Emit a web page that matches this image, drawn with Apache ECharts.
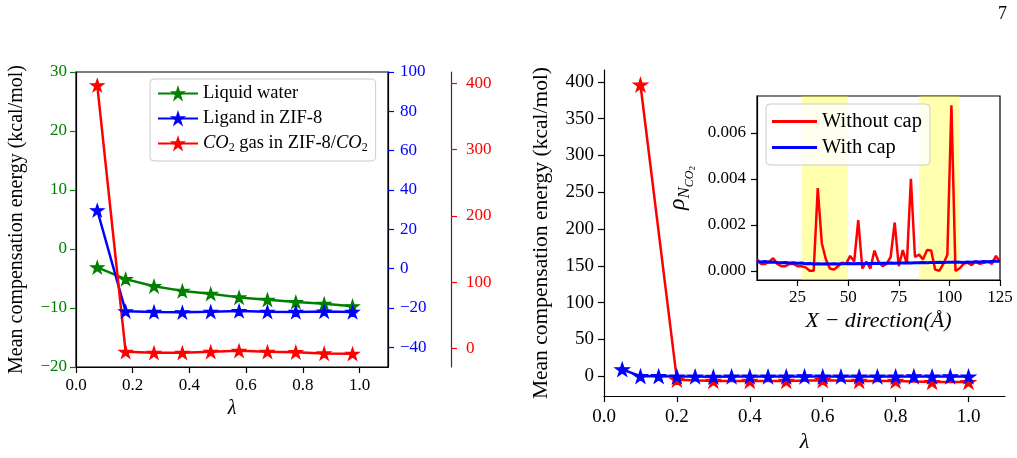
<!DOCTYPE html>
<html>
<head>
<meta charset="utf-8">
<script src="https://cdn.jsdelivr.net/npm/echarts@6/dist/echarts.min.js"></script>
<style>
  html, body { margin: 0; padding: 0; background: #fff; }
  #main { width: 1017px; height: 458px; }
</style>
</head>
<body>
<div id="main"></div>
<script>
// left panel: lambda values and the three solvents
const lamLeft = [0.075, 0.175, 0.275, 0.375, 0.475, 0.575, 0.675, 0.775, 0.875, 0.975]
const waterE = [-3.1, -5.1, -6.3, -7.1, -7.6, -8.2, -8.6, -9.0, -9.3, -9.7]
const ligandE = [29.7, -21.7, -22.0, -22.2, -21.9, -21.5, -21.9, -22.0, -21.8, -22.0]
const co2E = [397, -5.1, -6.6, -6.6, -5.1, -3.6, -5.1, -5.6, -7.5, -8.1]

// right panel: without cap (red) / with cap (blue)
const lamRed = [0.1, 0.2, 0.3, 0.4, 0.5, 0.6, 0.7, 0.8, 0.9, 1.0]
const noCapE = [396, -4.7, -6.5, -6.5, -6.5, -5.5, -6.5, -6.5, -8, -8]
const lamBlue = [0.05, 0.1, 0.15, 0.2, 0.25, 0.3, 0.35, 0.4, 0.45, 0.5,
  0.55, 0.6, 0.65, 0.7, 0.75, 0.8, 0.85, 0.9, 0.95, 1.0]
const capE = [9.3, 0, 0, -0.5, -0.5, -0.8, -0.5, -0.5, -0.5, -0.5,
  -0.3, -0.5, -0.5, -0.5, -0.5, -0.5, -0.3, -0.5, -0.3, -0.5]

// inset: density profile along x
const xDir = [5, 7, 9, 11, 13, 15, 17, 19, 21, 23, 25, 27, 29, 31, 33, 35, 37, 39, 41, 43,
  45, 47, 49, 51, 53, 55, 57, 59, 61, 63, 65, 67, 69, 71, 73, 75, 77, 79, 81, 83,
  85, 87, 89, 91, 93, 95, 97, 99, 101, 103, 105, 107, 109, 111, 113, 115, 117, 119, 121, 123, 125]
const rhoNoCap = [0.0005, 0.0003, 0.0003, 0.0004, 0.00055, 0.0003, 0.0002, 0.0002, 0.0003, 0.0003,
  0.0002, 0.0002, 0.00015, 0.0, 0.0, 0.0036, 0.0012, 0.0005, 0.0001, 0.00005,
  0.0002, 0.00035, 0.0003, 0.00065, 0.0004, 0.0022, 0.0001, 0.0004, 0.0001, 0.00088,
  0.0004, 0.0002, 0.0003, 0.0006, 0.0021, 0.0002, 0.0009, 0.0003, 0.004, 0.0006,
  0.0007, 0.0005, 0.0009, 0.00088, 0.00005, 0.0, 0.0003, 0.0007, 0.0072, 0.0,
  0.0001, 0.0003, 0.00035, 0.00025, 0.0004, 0.0003, 0.00035, 0.0004, 0.0003, 0.00065, 0.0004]
const rhoCap = [0.0004, 0.00038, 0.0004, 0.00037, 0.00038, 0.00036, 0.00035, 0.00036, 0.00034, 0.00035,
  0.00033, 0.00034, 0.00031, 0.00032, 0.0003, 0.00031, 0.0003, 0.00031, 0.0003, 0.00031,
  0.0003, 0.00031, 0.00031, 0.00032, 0.00031, 0.00032, 0.00031, 0.00032, 0.00032, 0.00033,
  0.00032, 0.00033, 0.00033, 0.00034, 0.00033, 0.00034, 0.00034, 0.00035, 0.00034, 0.00035,
  0.00035, 0.00036, 0.00035, 0.00036, 0.00036, 0.00037, 0.00036, 0.00037, 0.00037, 0.00038,
  0.00037, 0.00036, 0.00038, 0.00037, 0.00039, 0.00038, 0.0004, 0.00039, 0.00041, 0.00042, 0.00041]
const bands = [[27, 50], [85, 105]]

// tick labels
const lamTicks = [0, 0.2, 0.4, 0.6, 0.8, 1.0]
const waterTicks = [-20, -10, 0, 10, 20, 30]
const ligandTicks = [-40, -20, 0, 20, 40, 60, 80, 100]
const co2Ticks = [0, 100, 200, 300, 400]
const rightTicks = [0, 50, 100, 150, 200, 250, 300, 350, 400]
const xDirTicks = [25, 50, 75, 100, 125]
const rhoTicks = [0, 0.002, 0.004, 0.006]

const FONT = 'Liberation Serif'
const STAR = 'path://M100,0 L122.45,69.1 L195.1,69.1 L136.3,111.8 L158.8,180.9 L100,138.2 L41.2,180.9 L63.7,111.8 L4.9,69.1 L77.55,69.1 Z'

const zip = (xs, ys) => xs.map((x, i) => [x, ys[i]])
const minus = v => String(v).replace('-', '\u2212')

function valAxis(opt) {
  const color = opt.color || '#000'
  return {
    type: 'value',
    gridIndex: opt.grid,
    position: opt.position,
    offset: opt.offset || 0,
    min: opt.min,
    max: opt.max,
    splitLine: { show: false },
    axisLine: { show: true, onZero: false, lineStyle: { color: opt.lineColor || '#000', width: 1.2 } },
    axisTick: { show: true, length: 6, customValues: opt.ticks, lineStyle: { color: color, width: 1.2 } },
    axisLabel: {
      customValues: opt.ticks,
      color: color,
      fontFamily: FONT,
      fontSize: opt.fontSize || 17,
      margin: opt.margin || 9,
      formatter: opt.fmt || (v => minus(v))
    },
    name: opt.name,
    nameLocation: 'middle',
    nameGap: opt.nameGap,
    nameRotate: opt.nameRotate,
    nameTextStyle: opt.nameStyle
  }
}

function starLine(name, xi, yi, color, data, size) {
  return {
    name: name,
    type: 'line',
    xAxisIndex: xi,
    yAxisIndex: yi,
    data: data,
    symbol: STAR,
    symbolKeepAspect: true,
    symbolSize: size,
    itemStyle: { color: color, borderColor: color, borderWidth: 1.2 },
    lineStyle: { color: color, width: 2.5 },
    animation: false
  }
}

const chart = echarts.init(document.getElementById('main'), null, { renderer: 'canvas' })

const option = {
  backgroundColor: '#fff',
  animation: false,
  grid: [
    { left: 76, top: 72, width: 312, height: 295, show: true, borderColor: '#000', borderWidth: 1.2 },
    { left: 604, top: 70, width: 401, height: 329 },
    { left: 757, top: 96, width: 243, height: 184, show: true, borderColor: '#000', borderWidth: 1.2, backgroundColor: '#fff' }
  ],
  xAxis: [
    valAxis({ grid: 0, min: 0, max: 1.1, ticks: lamTicks, fmt: v => v.toFixed(1), margin: 10,
      name: 'λ', nameGap: 30, nameStyle: { fontFamily: FONT, fontStyle: 'italic', fontSize: 20, color: '#000' } }),
    valAxis({ grid: 1, min: 0, max: 1.1, ticks: lamTicks, fmt: v => v.toFixed(1), fontSize: 19, margin: 11,
      name: 'λ', nameGap: 33, nameStyle: { fontFamily: FONT, fontStyle: 'italic', fontSize: 22, color: '#000' } }),
    valAxis({ grid: 2, min: 5, max: 125, ticks: xDirTicks, fontSize: 17, margin: 9,
      name: 'X \u2212 direction(Å)', nameGap: 30, nameStyle: { fontFamily: FONT, fontStyle: 'italic', fontSize: 22, color: '#000' } })
  ],
  yAxis: [
    valAxis({ grid: 0, position: 'left', min: -20, max: 30, ticks: waterTicks, color: '#008000',
      name: 'Mean compensation energy (kcal/mol)', nameGap: 49, nameRotate: 90,
      nameStyle: { fontFamily: FONT, fontSize: 20, color: '#000' } }),
    valAxis({ grid: 0, position: 'right', min: -50, max: 100, ticks: ligandTicks, color: '#0000ff', margin: 12 }),
    valAxis({ grid: 0, position: 'right', offset: 63, min: -28, max: 417, ticks: co2Ticks, color: '#ff0000',
      lineColor: '#333', margin: 15 }),
    valAxis({ grid: 1, position: 'left', min: -27, max: 416, ticks: rightTicks, fontSize: 19, margin: 10,
      name: 'Mean compensation energy (kcal/mol)', nameGap: 52, nameRotate: 90,
      nameStyle: { fontFamily: FONT, fontSize: 21.5, color: '#000' } }),
    valAxis({ grid: 2, position: 'left', min: -0.0004, max: 0.0076, ticks: rhoTicks, fontSize: 17, margin: 11,
      fmt: v => v.toFixed(3),
      name: '{r|ρ}{n|N}{c|CO}{t|2}', nameGap: 60, nameRotate: 90,
      nameStyle: {
        color: '#000',
        rich: {
          r: { fontFamily: FONT, fontStyle: 'italic', fontSize: 24 },
          n: { fontFamily: FONT, fontStyle: 'italic', fontSize: 17, padding: [14, 0, 0, 0] },
          c: { fontFamily: FONT, fontStyle: 'italic', fontSize: 12, padding: [24, 0, 0, 0] },
          t: { fontFamily: FONT, fontSize: 9, padding: [30, 0, 0, 0] }
        }
      } })
  ],
  legend: [
    {
      data: ['Liquid water', 'Ligand in ZIF-8', 'CO2 gas'],
      orient: 'vertical',
      left: 150,
      top: 79,
      padding: [5, 8, 7, 7],
      itemWidth: 40,
      itemHeight: 13,
      itemGap: 6,
      backgroundColor: 'rgba(255,255,255,0.8)',
      borderColor: '#ccc',
      borderWidth: 1,
      borderRadius: 4,
      textStyle: {
        fontFamily: FONT,
        fontSize: 18.5,
        lineHeight: 17,
        color: '#000',
        rich: {
          i: { fontFamily: FONT, fontStyle: 'italic', fontSize: 18.5 },
          s: { fontFamily: FONT, fontSize: 12, padding: [9, 0, 0, 0] },
          p: { fontFamily: FONT, fontSize: 18.5 }
        }
      },
      formatter: function(name) {
        if (name === 'CO2 gas') {
          return '{i|CO}{s|2}{p| gas in ZIF-8/}{i|CO}{s|2}'
        }
        return name
      }
    },
    {
      data: ['Without cap', 'With cap'],
      orient: 'vertical',
      left: 766,
      top: 104,
      padding: [7, 8, 7, 6],
      icon: 'rect',
      itemWidth: 45,
      itemHeight: 3,
      itemGap: 5,
      backgroundColor: 'rgba(255,255,255,0.8)',
      borderColor: '#ccc',
      borderWidth: 1,
      borderRadius: 4,
      textStyle: { fontFamily: FONT, fontSize: 20.5, lineHeight: 19, color: '#000' }
    }
  ],
  graphic: [
    {
      type: 'text',
      left: 998,
      top: 5,
      style: { text: '7', fontFamily: FONT, fontSize: 18, fill: '#000' }
    }
  ],
  series: [
    starLine('Liquid water', 0, 0, '#008000', zip(lamLeft, waterE), 13),
    starLine('Ligand in ZIF-8', 0, 1, '#0000ff', zip(lamLeft, ligandE), 13),
    starLine('CO2 gas', 0, 2, '#ff0000', zip(lamLeft, co2E), 13),
    starLine('right no cap', 1, 3, '#ff0000', zip(lamRed, noCapE), 14),
    starLine('right cap', 1, 3, '#0000ff', zip(lamBlue, capE), 14),
    {
      name: 'Without cap',
      type: 'line',
      xAxisIndex: 2,
      yAxisIndex: 4,
      symbol: 'none',
      data: zip(xDir, rhoNoCap),
      itemStyle: { color: '#ff0000' },
      lineStyle: { color: '#ff0000', width: 2.5 },
      markArea: {
        silent: true,
        itemStyle: { color: 'rgba(255,255,0,0.32)' },
        data: bands.map(b => [{ xAxis: b[0] }, { xAxis: b[1] }])
      }
    },
    {
      name: 'With cap',
      type: 'line',
      xAxisIndex: 2,
      yAxisIndex: 4,
      symbol: 'none',
      data: zip(xDir, rhoCap),
      itemStyle: { color: '#0000ff' },
      lineStyle: { color: '#0000ff', width: 3 }
    }
  ]
}

chart.setOption(option)
</script>
</body>
</html>
